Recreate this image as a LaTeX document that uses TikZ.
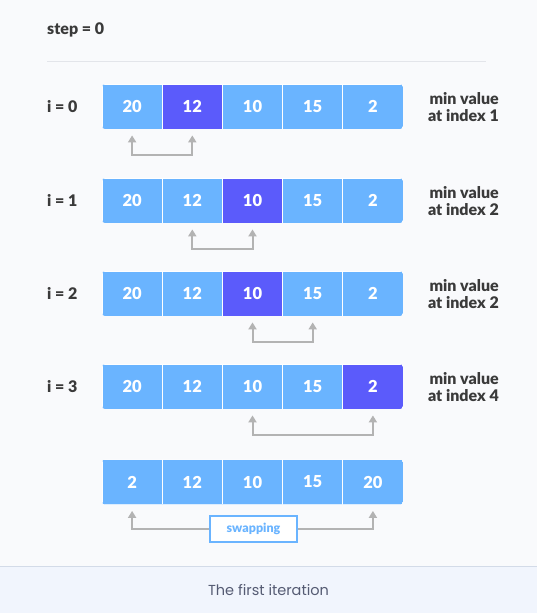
\documentclass[tikz,border=0pt]{standalone}
\usepackage{fontspec}
\setmainfont{Lato}[BoldFont={Lato Black}]
\newfontfamily\capfont{Poppins}
\usetikzlibrary{arrows.meta,calc}
\definecolor{bgC}{HTML}{F9FAFC}
\definecolor{cellL}{HTML}{6AB4FF}
\definecolor{cellD}{HTML}{5B5BFB}
\definecolor{connC}{HTML}{B3B3B3}
\definecolor{txtC}{HTML}{3A3A3A}
\definecolor{capbg}{HTML}{F1F5FD}
\definecolor{capline}{HTML}{D3DBE8}
\definecolor{captxt}{HTML}{555B73}
\definecolor{sepC}{HTML}{E3E5EA}
\tikzset{
  cellbox/.style={minimum width=60.2pt,minimum height=45pt,inner sep=0pt,draw=white,line width=0.8pt,text=white,font=\bfseries\fontsize{16.5}{18}\selectfont},
  leftlab/.style={anchor=west,text=txtC,font=\bfseries\fontsize{16}{17}\selectfont,inner sep=0pt},
  rightlab/.style={anchor=east,align=right,text=txtC,font=\bfseries\fontsize{16}{17}\selectfont,inner sep=0pt},
  conn/.style={draw=connC,line width=2pt},
  tip/.tip={Triangle[width=8pt,length=7pt]},
  swapbox/.style={draw=cellL,line width=1.5pt,fill=white,text=cellL,minimum width=87pt,minimum height=26pt,inner sep=0pt,font=\bfseries\fontsize{12.5}{14}\selectfont}
}
\newcommand\cellrow[4]{%
  \begin{scope}
    \clip[rounded corners=3pt] (102,#2-22.5) rectangle (403,#2+22.5);
    \foreach \v [count=\k from 0] in {#3} {
      \ifnum\k=#4\relax\def\cc{cellD}\else\def\cc{cellL}\fi
      \node[cellbox,fill=\cc] (#1\k) at (132.1+60.2*\k,#2) {\v};
    }
  \end{scope}}
\begin{document}
\begin{tikzpicture}[x=1pt,y=-1pt]
\fill[bgC] (0,0) rectangle (537,613);
\useasboundingbox (0,0) rectangle (537,613);
\node[leftlab] (step) at (47,30) {step = 0};
\draw[sepC,line width=1pt] (47,61) -- (486,61);

% row 0
\cellrow{a}{106.5}{20,12,10,15,2}{1}
\node[leftlab] (la) at (47,106.5) {i = 0};
\node[rightlab] (ra) at (499,107) {min value\\at index 1};
\draw[conn,tip-tip] ([yshift=-6pt]a0.south) -- ++(0,20) -| ([yshift=-6pt]a1.south);

% row 1
\cellrow{b}{200.5}{20,12,10,15,2}{2}
\node[leftlab] (lb) at (47,200.5) {i = 1};
\node[rightlab] (rb) at (499,201) {min value\\at index 2};
\draw[conn,tip-tip] ([yshift=-6pt]b1.south) -- ++(0,20) -| ([yshift=-6pt]b2.south);

% row 2
\cellrow{c}{293.5}{20,12,10,15,2}{2}
\node[leftlab] (lc) at (47,293.5) {i = 2};
\node[rightlab] (rc) at (499,294) {min value\\at index 2};
\draw[conn,tip-tip] ([yshift=-6pt]c2.south) -- ++(0,20) -| ([yshift=-6pt]c3.south);

% row 3
\cellrow{d}{386.5}{20,12,10,15,2}{4}
\node[leftlab] (ld) at (47,386.5) {i = 3};
\node[rightlab] (rd) at (499,387) {min value\\at index 4};
\draw[conn,tip-tip] ([yshift=-6pt]d2.south) -- ++(0,20) -| ([yshift=-6pt]d4.south);

% final row
\cellrow{f}{482}{2,12,10,15,20}{-1}
\node[swapbox] (sw) at (253.5,529) {swapping};
\draw[conn,-tip] (sw.west) -| ([yshift=-6pt]f0.south);
\draw[conn,-tip] (sw.east) -| ([yshift=-6pt]f4.south);
\node[swapbox] at (sw) {swapping};

% caption
\fill[capbg] (0,566) rectangle (537,613);
\draw[capline,line width=1pt] (0,566) -- (537,566);
\node[text=captxt,font=\capfont\fontsize{14.5}{16}\selectfont] (cap) at (268.5,590) {The first iteration};
\end{tikzpicture}
\end{document}
